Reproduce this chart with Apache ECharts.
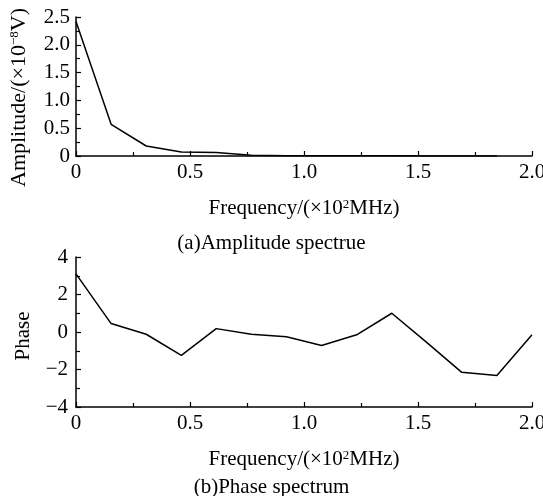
<!DOCTYPE html>
<html>
<head>
<meta charset="utf-8">
<script src="https://cdn.jsdelivr.net/npm/echarts@6/dist/echarts.min.js"></script>
<style>
html,body{margin:0;padding:0;background:#fff;}
#container{width:543px;height:496px;}
</style>
</head>
<body>
<div id="container"></div>
<script>
// frequency samples (x10^2 MHz), step 2/13
var freq = [0, 0.154, 0.308, 0.462, 0.615, 0.769, 0.923, 1.077, 1.231, 1.385, 1.538, 1.692, 1.846, 2.0];
var amplitude = [2.42, 0.57, 0.18, 0.07, 0.065, 0.012, 0.006, 0.004, 0.003, 0.003, 0.002, 0.002, 0.002];
var phase = [3.1, 0.45, -0.12, -1.25, 0.18, -0.12, -0.25, -0.72, -0.15, 1.0, -0.55, -2.15, -2.32, -0.15];

var font = 'Liberation Serif';
var black = '#000';

function pairs(xs, ys) {
    var out = [];
    for (var i = 0; i < ys.length; i++) out.push([xs[i], ys[i]]);
    return out;
}
function fmtX(v) {
    return v === 0 ? '0' : v.toFixed(1);
}
function fmtMinus(v) {
    return v < 0 ? '\u2212' + Math.abs(v) : String(v);
}

var axisBase = {
    axisLine: { onZero: false, lineStyle: { color: black, width: 1.5 } },
    axisTick: { inside: true, length: 5, lineStyle: { color: black, width: 1.2 } },
    minorTick: { show: true, splitNumber: 2, length: 4, lineStyle: { color: black, width: 1.2 } },
    splitLine: { show: false },
    axisLabel: { color: black, fontFamily: font, fontSize: 21 },
    nameTextStyle: { color: black, fontFamily: font, fontSize: 21 }
};

function mk(extra) {
    return echarts.util.merge(echarts.util.clone(axisBase), extra, true);
}

var supRich = {
    sup: { fontFamily: font, fontSize: 13, color: black, verticalAlign: 'top', padding: [0, 0, 8, 0] }
};

var dom = document.getElementById('container');
var myChart = echarts.init(dom);

option = {
    animation: false,
    backgroundColor: '#fff',
    title: [
        { text: '(a)Amplitude spectrue', left: 'center', top: 228,
          textStyle: { fontFamily: font, fontSize: 21, fontWeight: 'normal', color: black } },
        { text: '(b)Phase spectrum', left: 'center', top: 472,
          textStyle: { fontFamily: font, fontSize: 21, fontWeight: 'normal', color: black } }
    ],
    grid: [
        { left: 76, right: 11, top: 17, height: 139, outerBoundsMode: 'none', containLabel: false },
        { left: 76, right: 11, top: 257, height: 150, outerBoundsMode: 'none', containLabel: false }
    ],
    xAxis: [
        mk({ gridIndex: 0, type: 'value', min: 0, max: 2, interval: 0.5,
             name: 'Frequency/(\u00d710{sup|2}MHz)', nameLocation: 'middle', nameGap: 42,
             nameTextStyle: { rich: supRich },
             axisLabel: { formatter: fmtX, margin: 6 } }),
        mk({ gridIndex: 1, type: 'value', min: 0, max: 2, interval: 0.5,
             name: 'Frequency/(\u00d710{sup|2}MHz)', nameLocation: 'middle', nameGap: 42,
             nameTextStyle: { rich: supRich },
             axisLabel: { formatter: fmtX, margin: 6 } })
    ],
    yAxis: [
        mk({ gridIndex: 0, type: 'value', min: 0, max: 2.5, interval: 0.5,
             name: 'Amplitude/(\u00d710{sup|\u22128}V)', nameLocation: 'middle', nameGap: 46,
             nameTextStyle: { fontSize: 22, padding: [0, 22, 0, 0], rich: supRich },
             axisLabel: { formatter: function (v) { return v === 0 ? '0' : v.toFixed(1); }, margin: 6 } }),
        mk({ gridIndex: 1, type: 'value', min: -4, max: 4, interval: 2,
             name: 'Phase', nameLocation: 'middle', nameGap: 42,
             nameTextStyle: { padding: [0, 8, 0, 0] },
             axisLabel: { formatter: fmtMinus, margin: 8 } })
    ],
    series: [
        { type: 'line', xAxisIndex: 0, yAxisIndex: 0, data: pairs(freq, amplitude),
          showSymbol: false, lineStyle: { color: black, width: 1.5 } },
        { type: 'line', xAxisIndex: 1, yAxisIndex: 1, data: pairs(freq, phase),
          showSymbol: false, lineStyle: { color: black, width: 1.5 } }
    ]
};

if (option && typeof option === 'object') {
    myChart.setOption(option, true);
}
</script>
</body>
</html>
